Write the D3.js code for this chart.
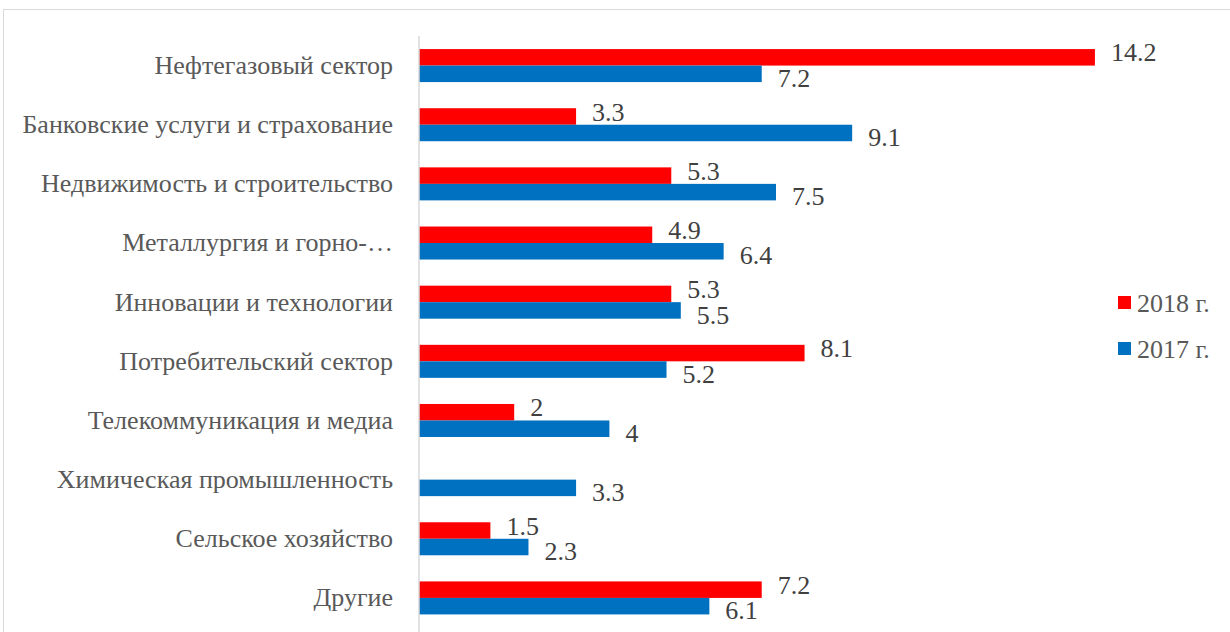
<!DOCTYPE html>
<html>
<head>
<meta charset="utf-8">
<script src="https://cdn.jsdelivr.net/npm/d3@7"></script>
<style>
  body { margin: 0; background: #fff; }
  text { font-family: "Liberation Serif", "Times New Roman", serif; }
</style>
</head>
<body>
<div id="chart"></div>
<script>
// categories top to bottom
const categories = [
    "Нефтегазовый сектор",
    "Банковские услуги и страхование",
    "Недвижимость и строительство",
    "Металлургия и горно-…",
    "Инновации и технологии",
    "Потребительский сектор",
    "Телекоммуникация и медиа",
    "Химическая промышленность",
    "Сельское хозяйство",
    "Другие"
];
const values2018 = [14.2, 3.3, 5.3, 4.9, 5.3, 8.1, 2, null, 1.5, 7.2];
const values2017 = [7.2, 9.1, 7.5, 6.4, 5.5, 5.2, 4, 3.3, 2.3, 6.1];
const seriesNames = ["2018 г.", "2017 г."];
const seriesColors = ["#ff0000", "#0070c0"];

const W = 1230, H = 632;
const FS = 26;
const svg = d3.select("#chart").append("svg")
    .attr("width", W)
    .attr("height", H);

// outer frame, runs past the right and bottom edges
svg.append("rect")
    .attr("x", 3.5).attr("y", 9.5)
    .attr("width", W + 10).attr("height", H + 10)
    .attr("fill", "none")
    .attr("stroke", "#d9d9d9");

const x = d3.scaleLinear().domain([0, 16]).range([419, 1180.6]);
const y = d3.scaleBand()
    .domain(categories)
    .range([36, 36 + 59.15 * categories.length])
    .paddingInner(0.442)
    .paddingOuter(0.221);
const ySub = d3.scaleBand()
    .domain(seriesNames)
    .range([0, y.bandwidth()]);

const rows = categories.map((c, i) => ({
    cat: c,
    vals: [values2018[i], values2017[i]]
}));

const groups = svg.append("g").selectAll("g")
    .data(rows)
    .join("g")
    .attr("transform", d => `translate(0,${y(d.cat)})`);

groups.each(function (d) {
    const g = d3.select(this);
    d.vals.forEach((v, s) => {
        if (v == null) return;
        g.append("rect")
            .attr("x", x(0))
            .attr("y", ySub(seriesNames[s]))
            .attr("width", x(v) - x(0))
            .attr("height", ySub.bandwidth())
            .attr("fill", seriesColors[s]);
        g.append("text")
            .attr("x", x(v) + 16)
            .attr("y", ySub(seriesNames[s]) + ySub.bandwidth() / 2 + (s === 0 ? -5 : 4))
            .attr("dy", "0.35em")
            .attr("font-size", FS)
            .attr("fill", "#404040")
            .text(v);
    });
});

// category axis
const yAxis = svg.append("g")
    .attr("transform", `translate(${x(0)},0)`)
    .call(d3.axisLeft(y).tickSize(0).tickPadding(26));
yAxis.select(".domain").remove();
yAxis.selectAll("text")
    .attr("font-size", FS)
    .attr("fill", "#595959");

svg.append("line")
    .attr("x1", x(0)).attr("x2", x(0))
    .attr("y1", 36).attr("y2", H)
    .attr("stroke", "#d9d9d9")
    .attr("stroke-width", 1.5);

// legend
const legend = svg.append("g").selectAll("g")
    .data(seriesNames)
    .join("g")
    .attr("transform", (d, i) => `translate(1118,${296 + i * 46})`);
legend.append("rect")
    .attr("width", 13).attr("height", 13)
    .attr("fill", (d, i) => seriesColors[i]);
legend.append("text")
    .attr("x", 19).attr("y", 7)
    .attr("dy", "0.35em")
    .attr("font-size", FS)
    .attr("fill", "#595959")
    .text(d => d);
</script>
</body>
</html>
